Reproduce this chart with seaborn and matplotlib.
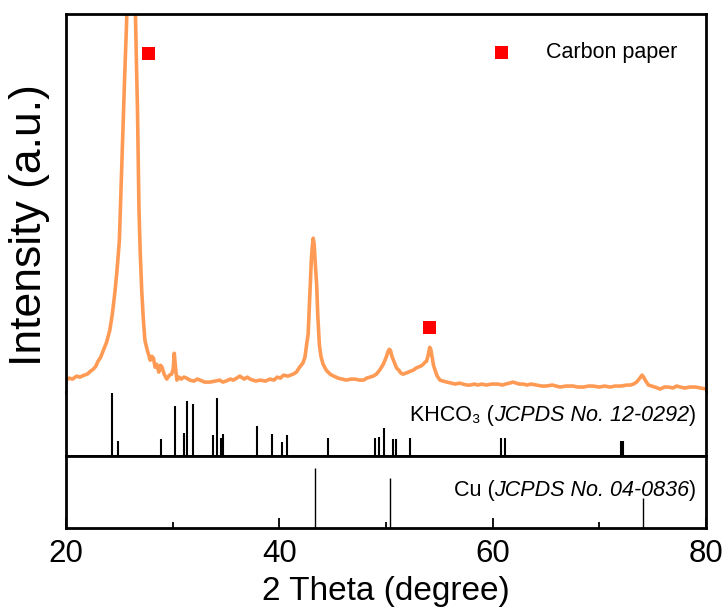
import matplotlib
matplotlib.use("Agg")
import matplotlib.pyplot as plt
import numpy as np
import pandas as pd
import seaborn as sns

# ---------------- data ----------------
two_theta = [20.0, 20.3, 20.6, 21.0, 21.3, 21.7, 22.0, 22.3, 22.56, 22.8, 23.0, 23.25, 23.5,
             23.8, 24.1, 24.35, 24.6, 24.8, 25.0, 25.2, 25.35, 25.5, 25.65, 25.8, 25.95,
             26.1, 26.25, 26.47, 26.6, 26.7, 26.84, 26.95, 27.1, 27.25, 27.4, 27.6, 27.9,
             28.05, 28.2, 28.35, 28.5, 28.7, 28.85, 29.0, 29.2, 29.45, 29.7, 29.9, 30.05,
             30.15, 30.3, 30.4, 30.6, 30.8, 31.05, 31.3, 31.6, 32.0, 32.3, 32.56, 33.0,
             33.5, 34.0, 34.4, 34.7, 35.0, 35.4, 35.7, 36.0, 36.3, 36.7, 37.0, 37.25,
             37.8, 38.2, 38.7, 39.1, 39.5, 39.8, 40.1, 40.4, 40.8, 41.3, 41.6, 41.9,
             42.2, 42.4, 42.56, 42.7, 42.8, 42.9, 43.0, 43.1, 43.18, 43.27, 43.35, 43.5,
             43.6, 43.75, 43.9, 44.1, 44.4, 44.75, 45.1, 45.5, 45.9, 46.3, 46.7, 47.1,
             47.5, 47.9, 48.2, 48.5, 48.8, 49.1, 49.4, 49.75, 49.9, 50.05, 50.2, 50.3,
             50.42, 50.55, 50.7, 50.85, 51.0, 51.2, 51.4, 51.6, 51.85, 52.1, 52.3, 52.56,
             52.8, 53.0, 53.25, 53.5, 53.65, 53.8, 53.95, 54.1, 54.2, 54.35, 54.45, 54.6,
             54.8, 55.06, 55.35, 55.7, 56.1, 56.5, 56.9, 57.2, 57.6, 57.9, 58.3, 58.6,
             59.0, 59.4, 59.9, 60.5, 60.9, 61.2, 61.6, 61.9, 62.2, 62.5, 62.9, 63.2,
             63.6, 64.1, 64.6, 65.0, 65.6, 66.3, 66.9, 67.5, 68.0, 68.5, 69.0, 69.4,
             70.0, 70.5, 71.0, 71.5, 72.0, 72.6, 72.9, 73.2, 73.5, 73.8, 74.0, 74.15,
             74.3, 74.6, 74.9, 75.2, 75.7, 76.1, 76.5, 76.9, 77.25, 77.6, 78.0, 78.5,
             79.0, 79.5, 80.0]
intensity = [9, 11, 10, 13, 12, 14, 15, 18, 20, 23, 28, 32, 39,
             47, 59, 76, 99, 122, 149, 215, 262, 315, 360, 410, 470,
             520, 470, 400, 330, 282, 182, 140, 99, 70, 49, 40, 29,
             33, 31, 22, 25, 17, 24, 22, 15, 10, 14, 15, 20,
             36, 18, 9, 12, 10, 12, 11, 9, 8, 10, 9, 7,
             7, 8, 9, 7, 8, 10, 9, 11, 13, 10, 12, 10,
             8, 9, 8, 10, 9, 12, 11, 14, 13, 15, 17, 22,
             26, 32, 45, 55, 80, 105, 130, 145, 152, 145, 130, 105,
             75, 45, 33, 25, 19, 15, 13, 11, 10, 9, 10, 10,
             9, 9, 11, 12, 13, 15, 19, 25, 29, 33, 38, 40,
             39, 33, 29, 25, 21, 19, 16, 15, 16, 17, 18, 19,
             21, 22, 23, 25, 27, 28, 34, 42, 40, 30, 24, 19,
             13, 9, 8, 7, 6, 5, 6, 5, 4, 4, 5, 4,
             5, 4, 5, 5, 4, 5, 6, 7, 6, 5, 5, 4,
             5, 4, 3, 3, 4, 2, 3, 3, 2, 2, 3, 3,
             2, 3, 2, 3, 3, 4, 4, 5, 7, 11, 14, 12,
             9, 4, 3, 2, 0, 2, 2, 1, 3, 2, 1, 2,
             2, 1, 0]

carbon_pos = [27.7, 54.1]
carbon_int = [338, 62]

khco3_pos = [24.34, 24.85, 28.9, 30.19, 31.03, 31.34, 31.88, 33.75, 34.19, 34.56, 34.69,
             37.93, 39.31, 40.25, 40.72, 44.59, 48.97, 49.37, 49.78, 50.7, 50.92, 52.27,
             60.81, 61.16, 72.0, 72.2]
khco3_int = [63, 15, 17, 50, 23, 55, 52, 21, 58, 18, 22,
             30, 22, 14, 21, 18, 18, 19, 28, 17, 17, 18,
             18, 18, 15, 15]

cu_pos = [43.3, 50.4, 74.1]
cu_int = [60, 50, 30]

x_major = [20, 40, 60, 80]
x_minor = [30, 50, 70]

xrd = pd.DataFrame({"two_theta": two_theta, "intensity": intensity})
marks = pd.DataFrame({"two_theta": carbon_pos, "intensity": carbon_int})

# ---------------- style ----------------
sns.set_theme(style="white")
plt.rcParams["font.family"] = ["Liberation Sans", "DejaVu Sans"]
for key in ("text.color", "axes.labelcolor", "xtick.color", "ytick.color"):
    plt.rcParams[key] = "black"

W, H = 728, 614
fig = plt.figure(figsize=(W / 100, H / 100), dpi=100)

def frac_axes(top_px, bot_px, left_px=66, right_px=706):
    return fig.add_axes([left_px / W, (H - bot_px) / H,
                         (right_px - left_px) / W, (bot_px - top_px) / H])

ax_c = frac_axes(14, 392)
ax_k = frac_axes(392, 456)
ax_u = frac_axes(456, 528)

orange = "#FF9A55"
spine_w = 2.0
fs_note = 15.5

# XRD curve
sns.lineplot(data=xrd, x="two_theta", y="intensity", ax=ax_c, color=orange,
             linewidth=2.6, legend=False)
sns.scatterplot(data=marks, x="two_theta", y="intensity", ax=ax_c, marker="s",
                color="#FF0000", s=90, edgecolor="none", label="Carbon paper", zorder=5)
ax_c.set_ylim(-3, 378)

ax_c.legend(loc="upper left", bbox_to_anchor=(0.664, 0.925), frameon=False,
            fontsize=fs_note, handlelength=1.0, handletextpad=1.55,
            borderpad=0, borderaxespad=0)


def ref_label(ax, y_frac, head, italic_part):
    """Right-aligned label: head + '(' + italic text + ')'."""
    t3 = ax.text(0.985, y_frac, ")", transform=ax.transAxes, ha="right",
                 va="baseline", fontsize=fs_note)
    t2 = ax.annotate(italic_part, xy=(0, 0), xycoords=t3, ha="right", va="bottom",
                     fontsize=fs_note, style="italic")
    ax.annotate(head + " (", xy=(0, 0), xycoords=t2, ha="right", va="bottom",
                fontsize=fs_note, family=["Liberation Sans", "DejaVu Sans"])


# KHCO3 sticks
ax_k.vlines(khco3_pos, 0, khco3_int, color="black", linewidth=1.5)
ax_k.set_ylim(0, 64)
ref_label(ax_k, 0.55, "KHCO\u2083", "JCPDS No. 12-0292")

# Cu sticks
ax_u.vlines(cu_pos, 0, cu_int, color="black", linewidth=1.0)
ax_u.set_ylim(0, 72)
ref_label(ax_u, 0.45, "Cu", "JCPDS No. 04-0836")

for ax in (ax_c, ax_k, ax_u):
    ax.set_xlim(20, 80)
    ax.set_yticks([])
    ax.set_xlabel("")
    ax.set_ylabel("")
    for s in ax.spines.values():
        s.set_color("black")
        s.set_linewidth(spine_w)

ax_c.spines["bottom"].set_visible(False)
ax_k.spines["top"].set_visible(False)
ax_c.set_xticks([])
ax_k.set_xticks([])

ax_u.set_xticks(x_major)
ax_u.set_xticks(x_minor, minor=True)
ax_u.tick_params(axis="x", which="major", direction="in", length=7, width=1.3,
                 labelsize=22.5, pad=8, bottom=True)
ax_u.tick_params(axis="x", which="minor", direction="in", length=4, width=1.3,
                 bottom=True)
ax_u.set_xticklabels([str(v) for v in x_major])
ax_u.set_xlabel("2 Theta (degree)", fontsize=24, labelpad=5)

fig.text(30 / W, (H - 225) / H, "Intensity (a.u.)", rotation=90,
         ha="center", va="center", fontsize=32)

fig.savefig("out.png", dpi=100)
